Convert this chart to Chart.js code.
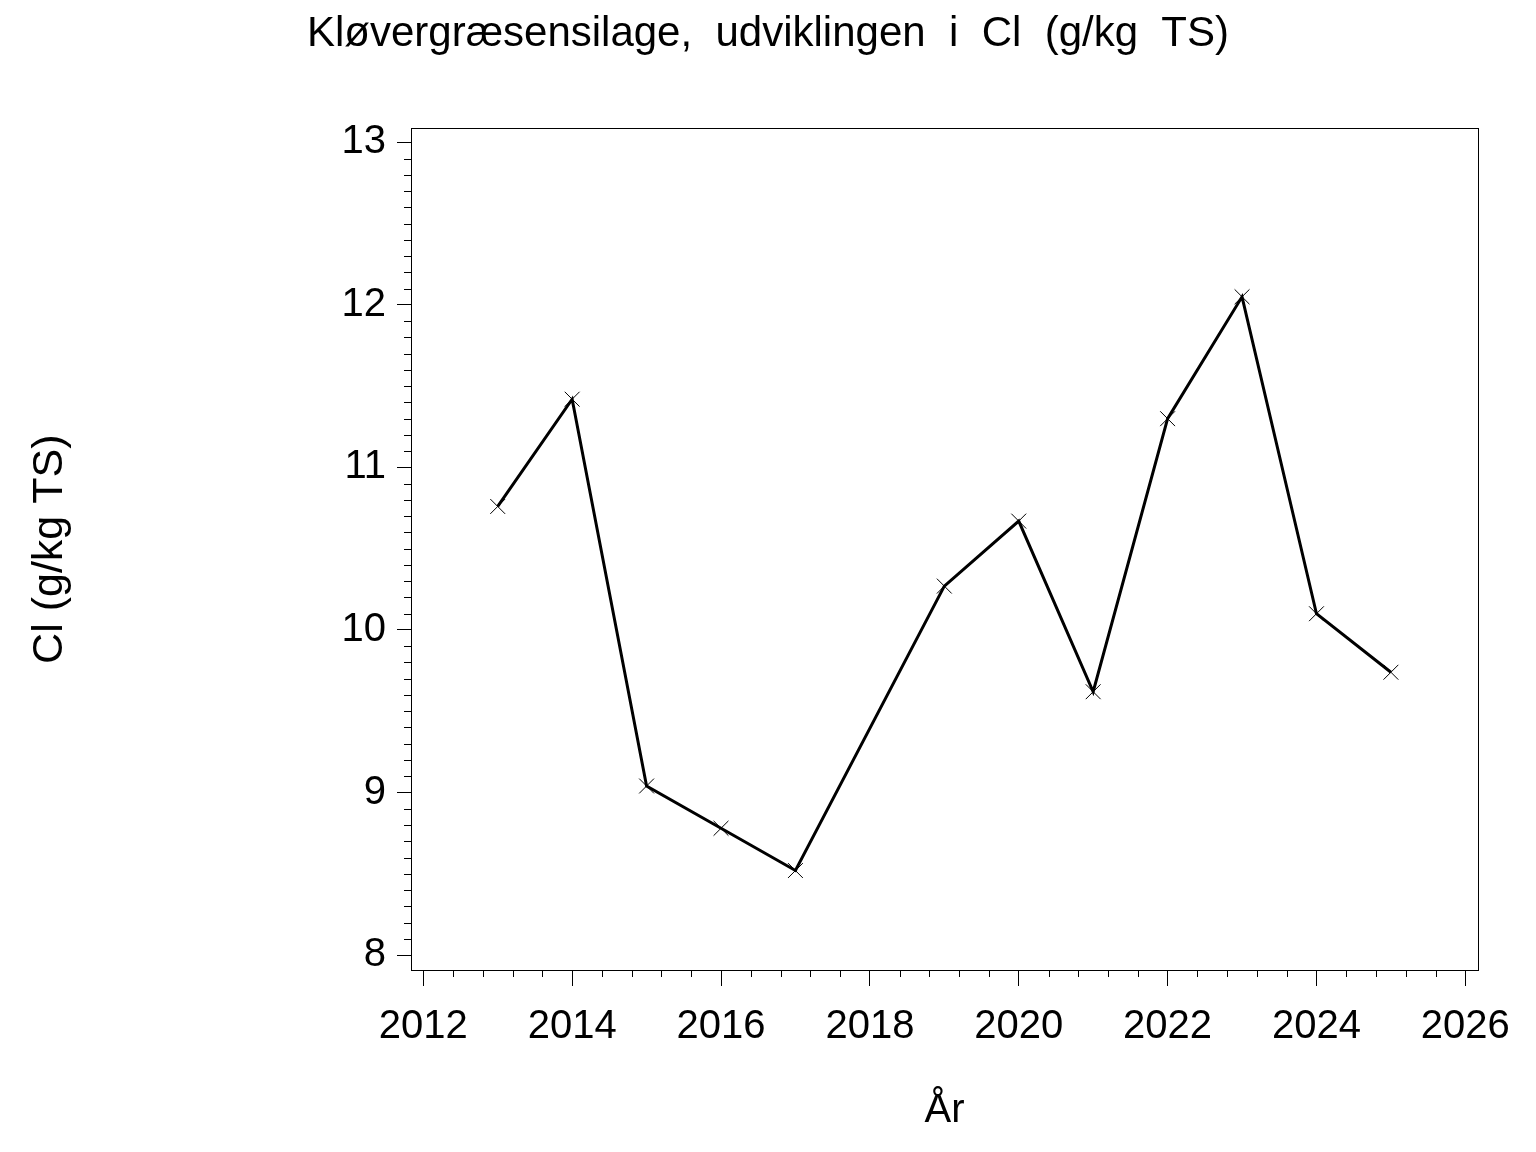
<!DOCTYPE html>
<html>
<head>
<meta charset="utf-8">
<script src="https://cdn.jsdelivr.net/npm/chart.js@4.4.1/dist/chart.umd.min.js"></script>
<style>
  html, body { margin: 0; padding: 0; background: #fff; }
  canvas { display: block; }
</style>
</head>
<body>
<canvas id="chart" width="1536" height="1152"></canvas>
<script>
const years = [2013, 2014, 2015, 2016, 2017, 2018, 2019, 2020, 2021, 2022, 2023, 2024, 2025];
const clValues = [10.76, 11.42, 9.04, 8.78, 8.52, null, 10.27, 10.67, 9.62, 11.30, 12.05, 10.10, 9.74];

const xTicks = [2012, 2014, 2016, 2018, 2020, 2022, 2024, 2026];
const yTicks = [8, 9, 10, 11, 12, 13];
const xMinorStep = 0.4;
const yMinorStep = 0.1;

const FONT = "'Liberation Sans', Arial, Helvetica, sans-serif";

// minor ticks + top frame line
const frameAndMinor = {
  id: 'frameAndMinor',
  afterDraw(chart) {
    const { ctx, chartArea, scales } = chart;
    const x = scales.x, y = scales.y;
    ctx.save();
    ctx.strokeStyle = '#000';
    ctx.lineWidth = 1;
    ctx.beginPath();
    const xFirst = xTicks[0], xLast = xTicks[xTicks.length - 1];
    const nx = Math.round((xLast - xFirst) / xMinorStep);
    for (let i = 0; i <= nx; i++) {
      const v = xFirst + i * xMinorStep;
      if (xTicks.some(t => Math.abs(t - v) < 1e-6)) continue;
      const px = Math.round(x.getPixelForValue(v)) + 0.5;
      ctx.moveTo(px, chartArea.bottom);
      ctx.lineTo(px, chartArea.bottom + 7);
    }
    const yFirst = yTicks[0], yLast = yTicks[yTicks.length - 1];
    const ny = Math.round((yLast - yFirst) / yMinorStep);
    for (let i = 0; i <= ny; i++) {
      const v = yFirst + i * yMinorStep;
      if (yTicks.some(t => Math.abs(t - v) < 1e-6)) continue;
      const py = Math.round(y.getPixelForValue(v)) + 0.5;
      ctx.moveTo(chartArea.left - 7, py);
      ctx.lineTo(chartArea.left, py);
    }
    ctx.stroke();
    ctx.strokeRect(Math.round(chartArea.left) + 0.5, Math.round(chartArea.top) + 0.5,
      Math.round(chartArea.right - chartArea.left), Math.round(chartArea.bottom - chartArea.top));
    ctx.restore();
  }
};

const ctx = document.getElementById('chart');

new Chart(ctx, {
  type: 'line',
  data: {
    labels: years,
    datasets: [{
      label: 'Cl',
      data: years.map((yr, i) => ({ x: yr, y: clValues[i] })),
      borderColor: '#000',
      borderWidth: 3,
      tension: 0,
      spanGaps: true,
      pointStyle: 'crossRot',
      pointRadius: 10.5,
      pointBorderWidth: 1,
      pointBorderColor: '#000',
      pointBackgroundColor: '#000'
    }]
  },
  options: {
    responsive: false,
    animation: false,
    layout: { padding: 0 },
    plugins: {
      legend: { display: false },
      tooltip: { enabled: false },
      title: {
        display: true,
        text: 'Kløvergræsensilage,  udviklingen  i  Cl  (g/kg  TS)',
        color: '#000',
        font: { family: FONT, size: 42, weight: 'normal' },
        padding: { top: 9, bottom: 69 }
      }
    },
    scales: {
      x: {
        type: 'linear',
        min: 2011.835,
        max: 2026.17,
        afterBuildTicks: s => { s.ticks = xTicks.map(v => ({ value: v })); },
        afterFit: s => { s.height = 182; },
        ticks: {
          color: '#000',
          font: { family: FONT, size: 40 },
          padding: 17,
          maxRotation: 0,
          autoSkip: false,
          callback: v => String(v)
        },
        grid: { drawOnChartArea: false, drawTicks: true, tickLength: 16, tickColor: '#000', tickWidth: 1 },
        border: { display: true, color: '#000', width: 1 },
        title: {
          display: true,
          text: 'År',
          color: '#000',
          font: { family: FONT, size: 40 },
          padding: { top: 0, bottom: 17 }
        }
      },
      y: {
        type: 'linear',
        min: 7.908,
        max: 13.086,
        afterBuildTicks: s => { s.ticks = yTicks.map(v => ({ value: v })); },
        afterFit: s => { s.width = 411; },
        ticks: {
          color: '#000',
          font: { family: FONT, size: 40 },
          padding: 11,
          callback: v => String(v)
        },
        grid: { drawOnChartArea: false, drawTicks: true, tickLength: 14, tickColor: '#000', tickWidth: 1 },
        border: { display: true, color: '#000', width: 1 },
        title: {
          display: true,
          text: 'Cl (g/kg TS)',
          color: '#000',
          font: { family: FONT, size: 43 },
          padding: { top: 24, bottom: 0 }
        }
      },
      // empty right axis: keeps the right margin so the title centres on the page
      yRight: {
        type: 'linear',
        position: 'right',
        min: 7.908,
        max: 13.086,
        afterFit: s => { s.width = 58; },
        ticks: { display: false },
        grid: { drawOnChartArea: false, drawTicks: false },
        border: { display: true, color: '#000', width: 1 }
      }
    }
  },
  plugins: [frameAndMinor]
});
</script>
</body>
</html>
